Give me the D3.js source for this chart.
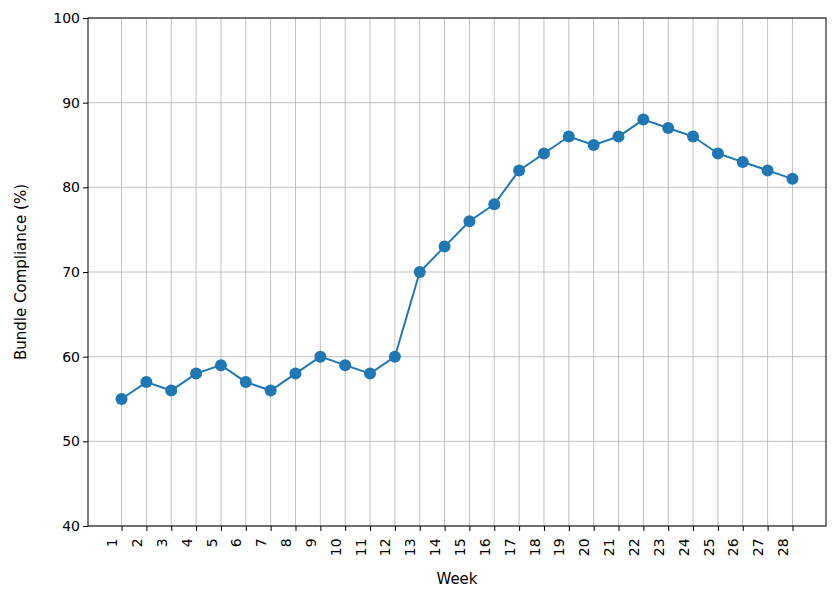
<!DOCTYPE html>
<html><head><meta charset="utf-8">
<script src="https://cdn.jsdelivr.net/npm/d3@7"></script>
<style>body{margin:0;background:#fff}text{font-family:"DejaVu Sans",sans-serif}</style>
</head><body><svg id="c" width="839" height="596"></svg>
<script>
const weeks = d3.range(1, 29);
const compliance = [55,57,56,58,59,57,56,58,60,59,58,60,70,73,76,78,82,84,86,85,86,88,87,86,84,83,82,81];
const yTicks = [40,50,60,70,80,90,100];
const xLabel = "Week", yLabel = "Bundle Compliance (%)";

const svg = d3.select("#c");
const L=88,R=826,T=18,B=526;
const x = d3.scaleLinear().domain([1-1.35,28+1.35]).range([L,R]);
const y = d3.scaleLinear().domain([40,100]).range([B,T]);
const g = svg.append("g");
g.selectAll(".vg").data(weeks).join("line").attr("x1",d=>x(d)).attr("x2",d=>x(d)).attr("y1",T).attr("y2",B).attr("stroke","#b0b0b0").attr("stroke-width",0.8);
g.selectAll(".hg").data(yTicks).join("line").attr("x1",L).attr("x2",R).attr("y1",d=>y(d)).attr("y2",d=>y(d)).attr("stroke","#b0b0b0").attr("stroke-width",0.8);
const xa = svg.append("g").attr("transform",`translate(0,${B})`).call(d3.axisBottom(x).tickValues(weeks).tickSize(5).tickSizeOuter(0));
xa.selectAll("text").attr("transform","rotate(-90)").attr("text-anchor","end").attr("dx","-0.6em").attr("dy","-0.35em").attr("y",0).attr("x",-4).style("font-size","14px").attr("fill","#000");
xa.select(".domain").remove();
const ya = svg.append("g").attr("transform",`translate(${L},0)`).call(d3.axisLeft(y).tickValues(yTicks).tickSize(5).tickSizeOuter(0));
ya.selectAll("text").style("font-size","14px").attr("fill","#000");
ya.select(".domain").remove();
svg.append("rect").attr("x",L).attr("y",T).attr("width",R-L).attr("height",B-T).attr("fill","none").attr("stroke","#000").attr("stroke-width",1);
const line = d3.line().x((d,i)=>x(weeks[i])).y(d=>y(d));
svg.append("path").datum(compliance).attr("d",line).attr("fill","none").attr("stroke","#1f77b4").attr("stroke-width",2);
svg.selectAll(".pt").data(compliance).join("circle").attr("cx",(d,i)=>x(weeks[i])).attr("cy",d=>y(d)).attr("r",6).attr("fill","#1f77b4");
svg.append("text").attr("x",(L+R)/2).attr("y",584).attr("text-anchor","middle").style("font-size","15px").text(xLabel);
svg.append("text").attr("transform",`translate(26,${(T+B)/2}) rotate(-90)`).attr("text-anchor","middle").style("font-size","15px").text(yLabel);
</script></body></html>
